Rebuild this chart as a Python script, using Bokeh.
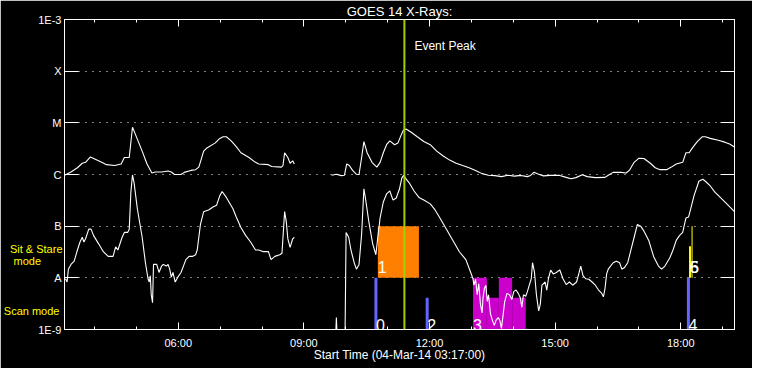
import numpy as np
import pandas as pd
from bokeh.plotting import figure
from bokeh.models import (Range1d, FixedTicker, DatetimeTickFormatter, CustomJSTickFormatter,
                          LogAxis, DatetimeAxis, Span, Label, Title)
from bokeh.core.properties import value
from bokeh.embed import file_html
from bokeh.resources import INLINE

# ---------------- data ----------------
DATE = "2014-03-04"
START_H = 3 + 17 / 60          # 03:17
END_H = 19 + 17 / 60           # 19:17
EVENT_PEAK_H = 11.40           # 11:24

# GOES 14 long channel (1-8 A), hours UT, W/m^2  (nan = data gap)
long_hours = [3.283, 3.322, 3.438, 3.592, 3.708, 3.786, 3.902, 4.018, 4.172, 4.288, 4.481, 4.636,
              4.713, 4.829, 4.907, 4.984, 5.138, 5.254, 5.370, 5.448, 5.602, 5.757, 5.834, 5.911,
              6.066, 6.143, 6.298, 6.414, 6.491, 6.607, 6.684, 6.877, 6.993, 7.071, 7.148, 7.264,
              7.380, 7.496, 7.689, 7.844, 7.921, 8.153, 8.230, 8.462, 8.501, 8.540, 8.617, 8.671,
              8.733, 8.771, 9.200, 9.660, 9.776, 9.892, 9.969, 10.023, 10.085, 10.163, 10.255,
              10.317, 10.379, 10.433, 10.510, 10.626, 10.742, 10.820, 10.897, 10.974, 11.052,
              11.167, 11.245, 11.322, 11.376, 11.438, 11.554, 11.708, 11.863, 12.018, 12.172,
              12.327, 12.481, 12.636, 12.791, 12.945, 13.100, 13.254, 13.409, 13.564, 13.718,
              13.873, 14.027, 14.182, 14.336, 14.414, 14.491, 14.607, 14.723, 14.877, 15.109,
              15.264, 15.380, 15.496, 15.650, 15.766, 15.960, 16.191, 16.269, 16.385, 16.578,
              16.694, 16.771, 16.887, 17.003, 17.119, 17.274, 17.390, 17.505, 17.660, 17.776,
              17.892, 18.046, 18.124, 18.201, 18.278, 18.394, 18.510, 18.587, 18.703, 18.897,
              19.051, 19.167, 19.283]
long_flux = [0.97e-6, 1.0e-6, 1.12e-6, 1.35e-6, 1.65e-6, 1.72e-6, 2.19e-6, 1.98e-6, 1.72e-6, 1.55e-6,
             1.49e-6, 1.60e-6, 2.13e-6, 2.13e-6, 8.2e-6, 5.78e-6, 2.83e-6, 1.60e-6, 1.07e-6, 1.12e-6,
             1.12e-6, 1.17e-6, 1.12e-6, 1.0e-6, 1.0e-6, 1.10e-6, 1.20e-6, 1.24e-6, 1.39e-6, 2.83e-6,
             3.27e-6, 4.05e-6, 5.0e-6, 5.37e-6, 5.37e-6, 4.47e-6, 3.5e-6, 2.64e-6, 2.13e-6, 1.72e-6,
             1.60e-6, 1.55e-6, 1.43e-6, 1.39e-6, 1.49e-6, 2.64e-6, 2.13e-6, 1.65e-6, 1.84e-6, 1.60e-6,
             float("nan"), 0.97e-6, 1.01e-6, 0.95e-6, 0.97e-6, 1.60e-6, 1.49e-6, 1.20e-6, 1.01e-6,
             1.0e-6, 2.13e-6, 4.34e-6, 2.64e-6, 1.72e-6, 1.39e-6, 1.72e-6, 2.64e-6, 3.77e-6, 4.47e-6,
             3.77e-6, 4.05e-6, 5.78e-6, 7.16e-6, 7.6e-6, 6.65e-6, 5.37e-6, 4.34e-6, 3.77e-6, 2.83e-6,
             2.28e-6, 1.90e-6, 1.65e-6, 1.49e-6, 1.35e-6, 1.20e-6, 1.04e-6, 0.97e-6, 0.95e-6, 0.91e-6,
             0.97e-6, 0.93e-6, 0.96e-6, 0.91e-6, 0.96e-6, 1.10e-6, 1.01e-6, 0.94e-6, 0.96e-6, 0.96e-6,
             0.88e-6, 0.83e-6, 0.87e-6, 0.99e-6, 0.91e-6, 0.87e-6, 0.88e-6, 0.97e-6, 1.10e-6, 1.10e-6,
             1.07e-6, 1.20e-6, 1.72e-6, 2.07e-6, 2.04e-6, 1.65e-6, 1.35e-6, 1.24e-6, 1.24e-6, 1.39e-6,
             1.60e-6, 1.72e-6, 2.64e-6, 2.64e-6, 3.27e-6, 4.34e-6, 5.37e-6, 5.37e-6, 5.0e-6, 4.6e-6,
             4.23e-6, 3.88e-6, 3.41e-6]

# GOES 14 short channel (0.5-4 A)
short_hours = [3.306, 3.345, 3.376, 3.438, 3.515, 3.592, 3.654, 3.708, 3.747, 3.786, 3.863, 3.917,
               3.979, 4.095, 4.211, 4.327, 4.443, 4.505, 4.559, 4.659, 4.713, 4.791, 4.829, 4.868,
               4.907, 4.945, 5.022, 5.138, 5.216, 5.278, 5.308, 5.332, 5.355, 5.386, 5.409, 5.486,
               5.540, 5.602, 5.641, 5.718, 5.757, 5.795, 5.834, 5.873, 5.927, 5.989, 6.066, 6.182,
               6.259, 6.336, 6.414, 6.453, 6.530, 6.607, 6.723, 6.839, 6.916, 6.993, 7.048, 7.148,
               7.303, 7.380, 7.496, 7.612, 7.728, 7.844, 7.921, 8.037, 8.153, 8.215, 8.307, 8.423,
               8.477, 8.501, 8.540, 8.578, 8.617, 8.671, 8.733, 8.771, 9.200, 9.660, 9.750, 9.776,
               9.800, 9.980, 9.990, 10.008, 10.070, 10.124, 10.201, 10.255, 10.317, 10.379, 10.433,
               10.472, 10.549, 10.642, 10.719, 10.765, 10.820, 10.897, 10.974, 11.052, 11.129,
               11.206, 11.284, 11.338, 11.384, 11.438, 11.515, 11.631, 11.747, 11.863, 12.018,
               12.133, 12.249, 12.404, 12.559, 12.713, 12.868, 12.984, 13.038, 13.061, 13.100,
               13.139, 13.177, 13.216, 13.255, 13.278, 13.309, 13.347, 13.378, 13.409, 13.456,
               13.502, 13.548, 13.587, 13.641, 13.680, 13.718, 13.757, 13.796, 13.850, 13.911,
               13.966, 14.012, 14.066, 14.120, 14.167, 14.205, 14.244, 14.298, 14.337, 14.383,
               14.430, 14.460, 14.507, 14.553, 14.607, 14.646, 14.685, 14.762, 14.800, 14.839,
               14.893, 14.955, 15.032, 15.109, 15.187, 15.264, 15.341, 15.419, 15.512, 15.573,
               15.612, 15.666, 15.728, 15.805, 15.882, 15.960, 16.037, 16.114, 16.153, 16.191,
               16.230, 16.269, 16.385, 16.462, 16.539, 16.593, 16.655, 16.733, 16.810, 16.887,
               16.964, 17.042, 17.119, 17.235, 17.351, 17.467, 17.544, 17.621, 17.737, 17.815,
               17.892, 17.969, 18.046, 18.124, 18.186, 18.240, 18.317, 18.433, 18.526, 18.588,
               18.704, 18.820, 18.974, 19.129, 19.283]
short_flux = [0.96e-8, 0.83e-8, 1.47e-8, 1.82e-8, 2.1e-8, 3.46e-8, 4.93e-8, 6.1e-8, 4.93e-8, 5.7e-8,
              8.75e-8, 8.75e-8, 6.57e-8, 4.6e-8, 3.21e-8, 2.6e-8, 2.6e-8, 3.98e-8, 3.46e-8, 6.1e-8,
              7.57e-8, 7.57e-8, 8.75e-8, 4.5e-7, 9.8e-7, 6.9e-7, 2.2e-7, 6.1e-8, 1.96e-8, 0.96e-8,
              0.83e-8, 1.1e-8, 4.7e-9, 3.3e-9, 1.82e-8, 1.82e-8, 1.27e-8, 1.69e-8, 1.82e-8, 1.69e-8,
              1.82e-8, 1.47e-8, 1.03e-8, 1.27e-8, 0.83e-8, 1.03e-8, 1.27e-8, 2.25e-8, 2.6e-8, 2.6e-8,
              2.8e-8, 3.46e-8, 1.08e-7, 1.91e-7, 2.06e-7, 2.37e-7, 2.55e-7, 3.9e-7, 4.7e-7, 3.6e-7,
              2.2e-7, 1.54e-7, 9.4e-8, 6.57e-8, 4.93e-8, 3.46e-8, 3.46e-8, 3.21e-8, 3.21e-8, 2.25e-8,
              2.6e-8, 2.8e-8, 3.0e-8, 6.1e-8, 1.91e-7, 1.25e-7, 5.7e-8, 3.88e-8, 5.7e-8, 6.1e-8,
              float("nan"), 5e-10, 5e-10, 1.7e-9, 5e-10, 5e-10, 2.7e-9, 7.57e-8, 6.1e-8, 3.46e-8,
              1.96e-8, 1.47e-8, 1.82e-8, 7.06e-8, 5.3e-7, 3.4e-7, 1.25e-7, 4.6e-8, 2.8e-8, 6.1e-8,
              1.44e-7, 2.94e-7, 4.2e-7, 4.8e-7, 3.2e-7, 3.5e-7, 5.3e-7, 8.5e-7, 9.8e-7, 8.2e-7,
              6.9e-7, 4.8e-7, 3.6e-7, 3.2e-7, 2.7e-7, 2.06e-7, 1.44e-7, 8.75e-8, 5.3e-8, 3.2e-8,
              2.25e-8, 1.27e-8, 9.6e-9, 7.2e-9, 9.4e-9, 4.7e-9, 7.7e-9, 3.1e-9, 2.1e-9, 4.1e-9,
              6.2e-9, 7.2e-9, 3.5e-9, 4.7e-9, 2.0e-9, 1.5e-9, 1.2e-9, 1.5e-9, 1.7e-9, 1.5e-9,
              1.05e-9, 1.9e-9, 3.5e-9, 5.0e-9, 4.7e-9, 3.8e-9, 5.4e-9, 5.8e-9, 5.0e-9, 4.1e-9,
              2.7e-9, 4.7e-9, 4.4e-9, 5.4e-9, 7.2e-9, 9.6e-9, 1.96e-8, 1.27e-8, 4.7e-9, 2.3e-9,
              3.1e-9, 7.2e-9, 8.3e-9, 5.8e-9, 9.6e-9, 1.41e-8, 1.19e-8, 1.27e-8, 1.43e-8, 9.6e-9,
              7.4e-9, 8.3e-9, 7.2e-9, 8.3e-9, 1.27e-8, 1.69e-8, 1.1e-8, 9.6e-9, 9.4e-9, 8.3e-9,
              7.2e-9, 5.8e-9, 5.0e-9, 4.3e-9, 6.2e-9, 1.19e-8, 1.47e-8, 1.96e-8, 2.1e-8, 1.96e-8,
              1.47e-8, 1.58e-8, 1.96e-8, 3.46e-8, 6.1e-8, 1.08e-7, 1.0e-7, 8.1e-8, 5.3e-8, 2.6e-8,
              1.69e-8, 1.47e-8, 1.69e-8, 2.42e-8, 3.46e-8, 5.3e-8, 6.57e-8, 7.57e-8, 1.44e-7, 1.5e-7,
              2.2e-7, 3.9e-7, 7.4e-7, 8.1e-7, 7.4e-7, 6.0e-7, 4.5e-7, 3.4e-7, 2.55e-7, 1.91e-7]

# axis ticks / labels
y_tick_values = [1e-9, 1e-8, 1e-7, 1e-6, 1e-5, 1e-4, 1e-3]
y_tick_labels = ["1E-9", "A", "B", "C", "M", "X", "1E-3"]
x_major_hours = [6, 9, 12, 15, 18]
x_minor_hours = [4, 5, 7, 8, 10, 11, 13, 14, 16, 17, 19]
mode_label_levels = [2.25e-9, 2.16e-8, 3.61e-8]
mode_labels = ["Scan mode", "mode", "Sit & Stare"]
mode_label_pad = [1, 7, 0]

# observations
scan_hours = [10.72, 11.944, 18.182]
scan_top = [1e-8, 4.1e-9, 1e-8]
scan_ids = ["0", "2", "4"]

sit_start = [10.766]
sit_end = [11.747]
sit_bottom = [1e-8]
sit_top = [1e-7]
sit_ids = ["1"]

raster_start = [13.039, 13.370, 13.656, 13.973]
raster_end = [13.370, 13.656, 13.973, 14.298]
raster_top = [1e-8, 4.1e-9, 1e-8, 4.1e-9]
raster_ids = ["3"]

marker_hours = [18.221, 18.270]
marker_top = [4.1e-8, 1e-7]
marker_ids = ["5", "6"]

TITLE = "GOES 14 X-Rays:"
X_LABEL = "Start Time (04-Mar-14 03:17:00)"
PEAK_LABEL = "Event Peak"

# ---------------- helpers ----------------
BASE = pd.Timestamp(DATE)


def to_dt(hours):
    return BASE + pd.to_timedelta(np.asarray(hours, dtype=float), unit="h")


def to_ms(h):
    return (BASE + pd.Timedelta(hours=float(h))).timestamp() * 1000.0


FONT = "Liberation Sans"
WHITE = "white"
YELLOW = "#ffff00"

p = figure(width=752, height=368, x_axis_type="datetime", y_axis_type="log",
           x_range=Range1d(to_ms(START_H), to_ms(END_H)), y_range=Range1d(1e-9, 1e-3),
           output_backend="svg", toolbar_location=None,
           background_fill_color="black", border_fill_color="black",
           outline_line_color=WHITE, outline_line_width=1,
           min_border_left=59, min_border_right=18, min_border_top=19, min_border_bottom=39)

x_ticker = FixedTicker(ticks=[to_ms(h) for h in x_major_hours],
                       minor_ticks=[to_ms(h) for h in x_minor_hours])
y_ticker = FixedTicker(ticks=y_tick_values, minor_ticks=[])
x_fmt = DatetimeTickFormatter(hours="%H:%M", hourmin="%H:%M", minutes="%H:%M", minsec="%H:%M",
                              seconds="%H:%M", days="%H:%M")
y_fmt = CustomJSTickFormatter(args=dict(vals=y_tick_values, labs=y_tick_labels), code="""
    for (let i = 0; i < vals.length; i++) {
        if (Math.abs(Math.log10(tick) - Math.log10(vals[i])) < 1e-6) return labs[i];
    }
    return "";
""")
blank_fmt = CustomJSTickFormatter(code="return '';")


def style(ax, tin, mtin):
    ax.axis_line_color = WHITE
    ax.major_tick_line_color = WHITE
    ax.minor_tick_line_color = WHITE
    ax.major_tick_in = tin
    ax.major_tick_out = 0
    ax.minor_tick_in = mtin
    ax.minor_tick_out = 0
    ax.major_label_text_color = WHITE
    ax.major_label_text_font = FONT
    ax.major_label_text_font_size = "11px"


xb = p.xaxis[0]
xb.ticker = x_ticker
xb.formatter = x_fmt
style(xb, 7, 3)
xb.major_label_standoff = 7
xb.axis_label = X_LABEL
xb.axis_label_text_color = WHITE
xb.axis_label_text_font = FONT
xb.axis_label_text_font_size = "12px"
xb.axis_label_text_font_style = "normal"
xb.axis_label_standoff = -4

yl = p.yaxis[0]
yl.ticker = y_ticker
yl.formatter = y_fmt
style(yl, 14, 0)
yl.major_label_standoff = 3

# yellow mode captions, carried by a bare outer left axis
mode_axis = LogAxis(ticker=FixedTicker(ticks=mode_label_levels, minor_ticks=[]),
                    formatter=CustomJSTickFormatter(
                        args=dict(labs=mode_labels, pad=mode_label_pad),
                        code="return labs[index] + '\\u00a0'.repeat(pad[index]);"))
mode_axis.axis_line_color = None
mode_axis.major_tick_line_color = None
mode_axis.minor_tick_line_color = None
mode_axis.major_tick_in = 0
mode_axis.major_tick_out = 0
mode_axis.minor_tick_in = 0
mode_axis.minor_tick_out = 0
mode_axis.major_label_text_color = YELLOW
mode_axis.major_label_text_font = FONT
mode_axis.major_label_text_font_size = "11px"
mode_axis.major_label_standoff = -27
p.add_layout(mode_axis, "left")

xt = DatetimeAxis(ticker=x_ticker, formatter=blank_fmt)
style(xt, 7, 3)
xt.major_label_standoff = 0
p.add_layout(xt, "above")

yr = LogAxis(ticker=y_ticker, formatter=blank_fmt)
style(yr, 14, 0)
yr.major_label_standoff = 0
p.add_layout(yr, "right")

p.add_layout(Title(text=TITLE, align="center", text_color=WHITE, text_font=FONT,
                   text_font_size="13px", text_font_style="normal", standoff=2), "above")

p.xgrid.visible = False
p.ygrid.ticker = FixedTicker(ticks=y_tick_values[1:-1])
p.ygrid.grid_line_color = WHITE
p.ygrid.grid_line_dash = "1 6"
p.ygrid.grid_line_width = 1

# observation blocks
p.quad(left=to_dt(sit_start), right=to_dt(sit_end), bottom=sit_bottom, top=sit_top,
       fill_color="#ff8000", line_color=None)
p.quad(left=to_dt(raster_start), right=to_dt(raster_end), bottom=[1e-9] * len(raster_top),
       top=raster_top, fill_color="#cc00cc", line_color=None)

# X-ray curves
p.line(to_dt(long_hours), long_flux, line_color=WHITE, line_width=1.1)
p.line(to_dt(short_hours), short_flux, line_color=WHITE, line_width=1.1)

# scan bars and markers
p.segment(x0=to_dt(scan_hours), y0=[1e-9] * len(scan_hours), x1=to_dt(scan_hours), y1=scan_top,
          line_color="#6464ff", line_width=3)
p.segment(x0=to_dt(marker_hours), y0=[1e-8] * len(marker_hours), x1=to_dt(marker_hours),
          y1=marker_top, line_color=YELLOW, line_width=[2, 1])

# event peak
p.add_layout(Span(location=to_ms(EVENT_PEAK_H), dimension="height", line_color="#a0d000",
                  line_width=2))
p.add_layout(Label(x=to_ms(EVENT_PEAK_H), y=1e-3, x_offset=10, y_offset=-26.7, text=PEAK_LABEL,
                   text_color=WHITE, text_font=FONT, text_font_size="12px",
                   text_baseline="alphabetic"))

# id labels
lab_hours = [scan_hours[0], sit_start[0], scan_hours[1], raster_start[0], scan_hours[2],
             marker_hours[0], marker_hours[0]]
lab_text = [scan_ids[0], sit_ids[0], scan_ids[1], raster_ids[0], scan_ids[2], marker_ids[0],
            marker_ids[1]]
lab_y = [1.24e-9, 1.6e-8, 1.24e-9, 1.24e-9, 1.24e-9, 1.6e-8, 1.6e-8]
p.text(x=to_dt(lab_hours), y=lab_y, text=lab_text, text_color=WHITE,
       text_font=value(FONT), text_font_size="16px", text_baseline="alphabetic", text_align="left")

open("out.html", "w").write(file_html(p, INLINE))
